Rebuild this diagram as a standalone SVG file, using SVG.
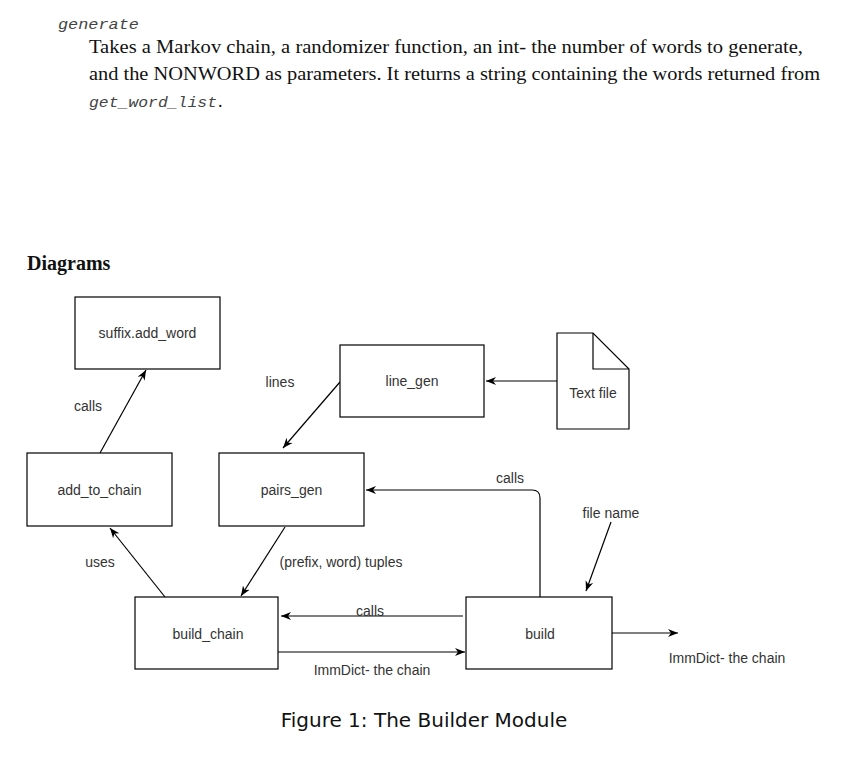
<svg xmlns="http://www.w3.org/2000/svg" width="858" height="762" viewBox="0 0 858 762">
<defs>
<style>
.mono{font-family:"Liberation Mono","DejaVu Sans Mono",monospace;font-style:italic;font-size:15px;fill:#444}
.serif{font-family:"Liberation Serif","Times New Roman",serif;font-size:19px;fill:#111}
.lbl{font-family:"Liberation Sans",Arial,sans-serif;font-size:14px;fill:#333}
.box{fill:#fff;stroke:#000;stroke-width:1.2}
.edge{fill:none;stroke:#000;stroke-width:1.2}
</style>
<marker id="arr" markerUnits="userSpaceOnUse" markerWidth="12" markerHeight="10" refX="10" refY="5" orient="auto">
<path d="M0,1 L10,5 L0,9 L3,5 z" fill="#000"/>
</marker>
</defs>
<rect width="858" height="762" fill="#fff"/>

<text class="mono" x="58" y="29" textLength="81" lengthAdjust="spacingAndGlyphs">generate</text>
<text class="serif" x="89" y="53" textLength="714" lengthAdjust="spacingAndGlyphs">Takes a Markov chain, a randomizer function, an int- the number of words to generate,</text>
<text class="serif" x="89" y="80" textLength="731" lengthAdjust="spacingAndGlyphs">and the NONWORD as parameters. It returns a string containing the words returned from</text>
<text class="mono" x="89" y="107" textLength="128" lengthAdjust="spacingAndGlyphs">get_word_list</text>
<text x="218" y="107" style="font-family:'Liberation Serif',serif;font-size:18px;fill:#111">.</text>
<text x="27" y="270" style="font-family:'Liberation Serif','Times New Roman',serif;font-weight:bold;font-size:20px;fill:#111">Diagrams</text>

<g id="connectors">
<line class="edge" x1="100" y1="453" x2="146" y2="370" marker-end="url(#arr)"/>
<line class="edge" x1="340" y1="382" x2="283" y2="448" marker-end="url(#arr)"/>
<line class="edge" x1="557" y1="381" x2="486" y2="381" marker-end="url(#arr)"/>
<path class="edge" d="M540,597 L540,498 Q540,490 532,490 L366,490" marker-end="url(#arr)"/>
<line class="edge" x1="611" y1="522" x2="586" y2="591" marker-end="url(#arr)"/>
<line class="edge" x1="285" y1="527" x2="241" y2="596" marker-end="url(#arr)"/>
<line class="edge" x1="165" y1="597" x2="110" y2="528" marker-end="url(#arr)"/>
<line class="edge" x1="463" y1="616" x2="281" y2="616" marker-end="url(#arr)"/>
<line class="edge" x1="278" y1="652" x2="465" y2="652" marker-end="url(#arr)"/>
<line class="edge" x1="612" y1="633" x2="678" y2="633" marker-end="url(#arr)"/>
<text class="lbl" x="88" y="411" text-anchor="middle">calls</text>
<text class="lbl" x="280" y="387" text-anchor="middle">lines</text>
<text class="lbl" x="510" y="483" text-anchor="middle">calls</text>
<text class="lbl" x="611" y="518" text-anchor="middle">file name</text>
<text class="lbl" x="341" y="567" text-anchor="middle">(prefix, word) tuples</text>
<text class="lbl" x="100" y="567" text-anchor="middle">uses</text>
<text class="lbl" x="370" y="616" text-anchor="middle">calls</text>
<text class="lbl" x="372" y="675" text-anchor="middle">ImmDict- the chain</text>
<text class="lbl" x="727" y="663" text-anchor="middle">ImmDict- the chain</text>
</g>

<g id="suffix_add_word">
<rect class="box" x="75" y="297" width="145" height="72"/>
<text class="lbl" x="147.5" y="338" text-anchor="middle">suffix.add_word</text>
</g>
<g id="line_gen">
<rect class="box" x="340" y="345" width="144" height="72"/>
<text class="lbl" x="412" y="386" text-anchor="middle">line_gen</text>
</g>
<g id="text_file">
<path class="box" d="M557,333 L593,333 L629,369 L629,429 L557,429 Z"/>
<path class="edge" d="M593,333 L593,369 L629,369"/>
<text class="lbl" x="593" y="398" text-anchor="middle">Text file</text>
</g>
<g id="add_to_chain">
<rect class="box" x="27" y="453" width="145" height="73"/>
<text class="lbl" x="99.5" y="495" text-anchor="middle">add_to_chain</text>
</g>
<g id="pairs_gen">
<rect class="box" x="219" y="453" width="145" height="73"/>
<text class="lbl" x="291.5" y="495" text-anchor="middle">pairs_gen</text>
</g>
<g id="build_chain">
<rect class="box" x="135" y="597" width="143" height="72"/>
<text class="lbl" x="208" y="639" text-anchor="middle">build_chain</text>
</g>
<g id="build">
<rect class="box" x="466" y="597" width="146" height="72"/>
<text class="lbl" x="540" y="639" text-anchor="middle">build</text>
</g>

<text x="424" y="727" text-anchor="middle" style="font-family:'DejaVu Sans',sans-serif;font-size:20px;fill:#111">Figure 1: The Builder Module</text>
</svg>
